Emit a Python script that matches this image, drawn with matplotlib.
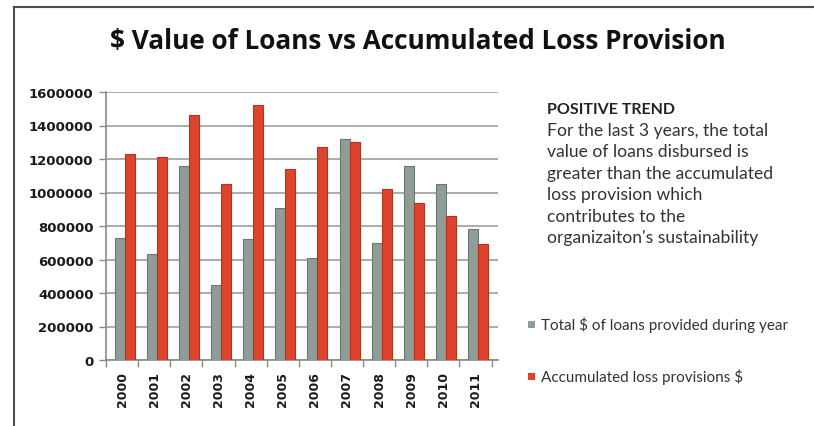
import matplotlib
matplotlib.use("Agg")
import matplotlib.pyplot as plt
from matplotlib.lines import Line2D
from matplotlib.patches import Rectangle
import numpy as np

years = ["2000", "2001", "2002", "2003", "2004", "2005", "2006", "2007", "2008", "2009", "2010", "2011"]
loans = [730000, 630000, 1160000, 450000, 720000, 910000, 610000, 1320000, 700000, 1160000, 1050000, 780000]
provisions = [1230000, 1210000, 1460000, 1050000, 1520000, 1140000, 1270000, 1300000, 1020000, 940000, 860000, 690000]
yticks = [0, 200000, 400000, 600000, 800000, 1000000, 1200000, 1400000, 1600000]
series_names = ["Total $ of loans provided during year", "Accumulated loss provisions $"]
title = "$ Value of Loans vs Accumulated Loss Provision"
note_head = "POSITIVE TREND"
note_body = ["For the last 3 years, the total",
             "value of loans disbursed is",
             "greater than the accumulated",
             "loss provision which",
             "contributes to the",
             "organizaiton's sustainability"]

W, H = 814, 427
fig = plt.figure(figsize=(W / 100, H / 100), dpi=100)
fig.patch.set_facecolor("white")

def fx(px):
    return px / W

def fy(py):
    return 1 - py / H

ax = fig.add_axes([fx(106), fy(361), (498 - 106) / W, (361 - 93) / H])
x = np.arange(len(years))
bw = 0.31
gray, gray_e = "#8f9d97", "#6b7772"
red, red_e = "#e0432b", "#b03420"
off = 0.08
ax.bar(x - bw / 2 + off, loans, width=bw, color=gray, edgecolor=gray_e, linewidth=0.8, zorder=3)
ax.bar(x + bw / 2 + off, provisions, width=bw, color=red, edgecolor=red_e, linewidth=0.8, zorder=3)

ax.set_xlim(-0.5, len(years) - 0.3)
ax.set_ylim(0, 1600000)
ax.set_yticks(yticks)
ax.set_yticklabels([str(v) for v in yticks], fontsize=9.5, fontweight="bold", color="#1a1a1a", family="DejaVu Sans")
ax.yaxis.grid(True, color="#a6a6a6", linewidth=1.3, zorder=0)
ax.set_axisbelow(True)

ax.set_xticks(x)
ax.set_xticklabels(years, rotation=90, fontsize=9, fontweight="bold", color="#1a1a1a", family="DejaVu Sans")
ax.tick_params(axis="x", length=0, pad=8)
ax.set_xticks(np.arange(-0.5, len(years)), minor=True)
ax.tick_params(axis="x", which="minor", length=5, color="#8a8a8a", width=1)
ax.tick_params(axis="y", length=5, color="#8a8a8a", width=1, pad=4)

for s in ["top", "right"]:
    ax.spines[s].set_visible(False)
ax.spines["left"].set_color("#8a8a8a")
ax.spines["bottom"].set_color("#8a8a8a")
ax.spines["left"].set_linewidth(1.2)
ax.spines["bottom"].set_linewidth(1.2)

# frame lines
fig.add_artist(Line2D([fx(14), 1], [fy(8), fy(8)], color="#4d4d4d", linewidth=1.5))
fig.add_artist(Line2D([fx(14), fx(14)], [0, fy(8)], color="#4d4d4d", linewidth=1.5))

fig.text(fx(418), fy(42), title, ha="center", va="center", fontsize=18.8, fontweight="bold",
         family="Open Sans", color="#111111")

fig.text(fx(547), fy(110), note_head, ha="left", va="center", fontsize=11.5, fontweight="bold",
         family="Lato", color="#222222")
for i, line in enumerate(note_body):
    fig.text(fx(547), fy(131 + i * 21.4), line, ha="left", va="center", fontsize=12.6,
             family="Lato", color="#333333")

# legend
for yy, col, name in [(325, gray, series_names[0]), (377, red, series_names[1])]:
    fig.add_artist(Rectangle((fx(528), fy(yy + 4)), 7 / W, 7 / H, transform=fig.transFigure,
                             facecolor=col, edgecolor="none"))
    fig.text(fx(541), fy(yy), name, ha="left", va="center", fontsize=11,
             family="Lato", color="#333333")

fig.savefig("out.png", dpi=100, facecolor="white")
